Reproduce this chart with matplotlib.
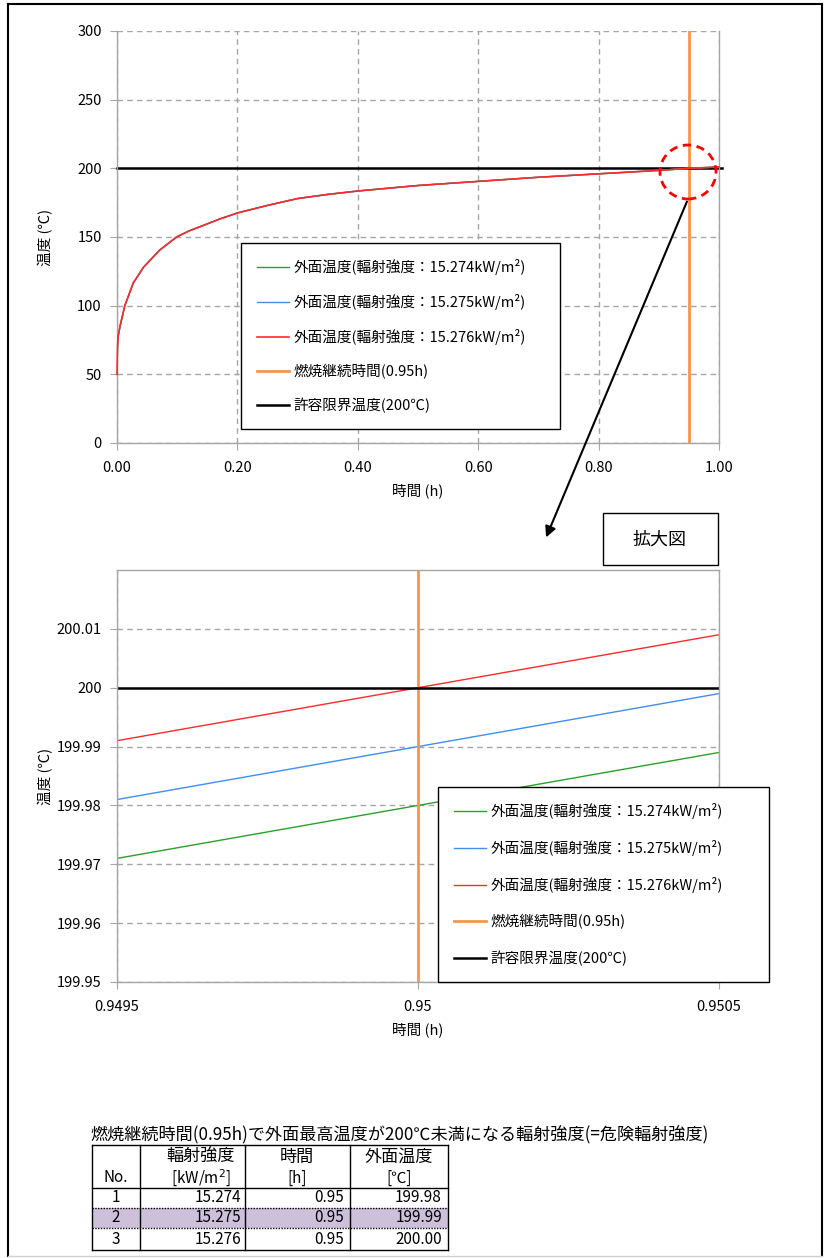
import matplotlib
matplotlib.use("Agg")
import matplotlib.pyplot as plt
from matplotlib.patches import Ellipse, FancyArrowPatch, Rectangle
from matplotlib.lines import Line2D

plt.rcParams['font.family'] = ['Noto Sans CJK JP', 'DejaVu Sans']

# ---- data ----
# top chart: outer surface temperature over time (3 series overlap at this scale)
t_main = [0.0, 0.0008, 0.002, 0.005, 0.013, 0.027, 0.044, 0.071, 0.099, 0.12, 0.138,
          0.17, 0.2, 0.25, 0.3, 0.35, 0.4, 0.5, 0.6, 0.7, 0.8, 0.9, 0.95, 1.0]
temp_main = [50, 70, 78, 85, 100, 116.5, 128, 140.5, 150, 154.5, 157.5,
             163, 167.5, 173, 178, 181, 183.5, 187.5, 190.5, 193.5, 196, 198.5, 200, 201]

# zoomed chart: straight segments between the two window edges
t_zoom = [0.9495, 0.9505]
temp_274 = [199.971, 199.989]
temp_275 = [199.981, 199.999]
temp_276 = [199.991, 200.009]

burn_time = 0.95
limit_temp = 200

labels = ['外面温度(輻射強度：15.274kW/m²)',
          '外面温度(輻射強度：15.275kW/m²)',
          '外面温度(輻射強度：15.276kW/m²)',
          '燃焼継続時間(0.95h)',
          '許容限界温度(200℃)']

top_xticks = [0.0, 0.2, 0.4, 0.6, 0.8, 1.0]
top_yticks = [0, 50, 100, 150, 200, 250, 300]
zoom_xticks = [0.9495, 0.95, 0.9505]
zoom_xlabels = ['0.9495', '0.95', '0.9505']
zoom_yticks = [199.95, 199.96, 199.97, 199.98, 199.99, 200.0, 200.01]
zoom_ylabels = ['199.95', '199.96', '199.97', '199.98', '199.99', '200', '200.01']

# table
tbl_title = '燃焼継続時間(0.95h)で外面最高温度が200℃未満になる輻射強度(=危険輻射強度)'
tbl_no = ['1', '2', '3']
tbl_intensity = ['15.274', '15.275', '15.276']
tbl_time = ['0.95', '0.95', '0.95']
tbl_temp = ['199.98', '199.99', '200.00']

c_green = '#2ca02c'
c_blue = '#3f8ef0'
c_red = '#ff2a2a'
c_orange = '#f7964a'
c_grid = '#a6a6a6'

W, H = 827, 1258


def fx(x):
    return x / W


def fy(y):
    return 1 - y / H


fig = plt.figure(figsize=(W / 100, H / 100), dpi=100)


def style_axes(ax):
    ax.grid(True, color=c_grid, linestyle=(0, (4, 3)), linewidth=1)
    ax.set_axisbelow(True)
    for s in ['left', 'bottom', 'right', 'top']:
        ax.spines[s].set_color(c_grid)
        ax.spines[s].set_linewidth(1)
    ax.tick_params(direction='out', length=5, color=c_grid, labelsize=10.5)
    ax.tick_params(axis='y', pad=6)
    ax.tick_params(axis='x', pad=8)


# ---- top chart ----
ax1 = fig.add_axes([fx(117), fy(443), 602 / W, 412 / H])
style_axes(ax1)
ax1.spines['top'].set_visible(False)
l1, = ax1.plot(t_main, temp_main, color=c_green, lw=1, zorder=3)
l2, = ax1.plot(t_main, temp_main, color=c_blue, lw=1, zorder=3)
l3, = ax1.plot(t_main, temp_main, color=c_red, lw=1.2, zorder=3, clip_on=False)
l4 = ax1.axvline(burn_time, color=c_orange, lw=2)
l5, = ax1.plot([0, 1.005], [limit_temp, limit_temp], color='black', lw=1.8, clip_on=False)
ax1.set_xlim(0, 1)
ax1.set_ylim(0, 300)
ax1.set_xticks(top_xticks)
ax1.set_xticklabels(['%.2f' % v for v in top_xticks])
ax1.set_yticks(top_yticks)
ax1.set_xlabel('時間 (h)', fontsize=10.5, labelpad=6)
ax1.set_ylabel('温度 (℃)', fontsize=10.5)
ax1.yaxis.set_label_coords((53 - 117) / 602, 0.5)
leg1 = ax1.legend([l1, l2, l3, l4, l5], labels, loc='upper left',
                  bbox_to_anchor=(fx(241), fy(428), fx(560) - fx(241), fy(243) - fy(428)),
                  bbox_transform=fig.transFigure, mode='expand', borderaxespad=0,
                  fontsize=10.5, fancybox=False, framealpha=1, edgecolor='black',
                  handlelength=2.2, handletextpad=0.3, labelspacing=1.3, borderpad=1.1)
leg1.get_frame().set_linewidth(1)

# ---- zoomed chart ----
ax2 = fig.add_axes([fx(117), fy(982), 602 / W, 412 / H])
style_axes(ax2)
g1, = ax2.plot(t_zoom, temp_274, color=c_green, lw=1)
g2, = ax2.plot(t_zoom, temp_275, color=c_blue, lw=1)
g3, = ax2.plot(t_zoom, temp_276, color=c_red, lw=1)
g4 = ax2.axvline(burn_time, color=c_orange, lw=2)
g5 = ax2.axhline(limit_temp, color='black', lw=1.8)
ax2.set_xlim(0.9495, 0.9505)
ax2.set_ylim(199.95, 200.02)
ax2.set_xticks(zoom_xticks)
ax2.set_xticklabels(zoom_xlabels)
ax2.set_yticks(zoom_yticks)
ax2.set_yticklabels(zoom_ylabels)
ax2.set_xlabel('時間 (h)', fontsize=10.5, labelpad=6)
ax2.set_ylabel('温度 (℃)', fontsize=10.5)
ax2.yaxis.set_label_coords((53 - 117) / 602, 0.5)
leg2 = ax2.legend([g1, g2, g3, g4, g5], labels, loc='upper left',
                  bbox_to_anchor=(fx(438), fy(970), fx(769) - fx(438), fy(787) - fy(970)),
                  bbox_transform=fig.transFigure, mode='expand', borderaxespad=0,
                  fontsize=10.5, fancybox=False, framealpha=1, edgecolor='black',
                  handlelength=2.2, handletextpad=0.3, labelspacing=1.45, borderpad=1.1)
leg2.get_frame().set_linewidth(1)

# ---- callout: circle, arrow, label box ----
fig.add_artist(Ellipse((fx(688), fy(172)), 56 / W, 54 / H, transform=fig.transFigure,
                       fill=False, ec='red', lw=2, ls=(0, (3, 2))))
fig.add_artist(FancyArrowPatch((fx(688), fy(199)), (fx(545), fy(540)),
                               transform=fig.transFigure, arrowstyle='-|>',
                               mutation_scale=16, color='black', lw=1.5))
fig.add_artist(Rectangle((fx(603), fy(565)), 115 / W, 52 / H, transform=fig.transFigure,
                         fill=False, ec='black', lw=1))
fig.text(fx(660), fy(540), '拡大図', fontsize=13, ha='center', va='center')

# ---- table ----
fig.text(fx(90), fy(1135), tbl_title, fontsize=12.3, ha='left', va='center')
cols = [92, 140, 245, 350, 448]
fig.add_artist(Rectangle((fx(92), fy(1228)), 356 / W, 20 / H, transform=fig.transFigure,
                         fc='#ccc0da', ec='none'))


def hline(y, x0, x1, ls='-', lw=1):
    fig.add_artist(Line2D([fx(x0), fx(x1)], [fy(y), fy(y)], transform=fig.transFigure,
                          color='black', lw=lw, ls=ls))


def vline(x, y0, y1):
    fig.add_artist(Line2D([fx(x), fx(x)], [fy(y0), fy(y1)], transform=fig.transFigure,
                          color='black', lw=1))


hline(1145, 92, 448)
hline(1188, 92, 448)
hline(1208, 92, 448, ls=(0, (1, 1)))
hline(1228, 92, 448, ls=(0, (1, 1)))
hline(1250, 92, 448)
for c in cols:
    vline(c, 1145, 1250)

fs = 11
fs_head = 12.3
fig.text(fx(201), fy(1157), '輻射強度', fontsize=fs_head, ha='center', va='center')
fig.text(fx(297), fy(1157), '時間', fontsize=fs_head, ha='center', va='center')
fig.text(fx(399), fy(1157), '外面温度', fontsize=fs_head, ha='center', va='center')
fig.text(fx(116), fy(1178), 'No.', fontsize=fs, ha='center', va='center')
fig.text(fx(201), fy(1178), '[kW/m$^2$]', fontsize=fs, ha='center', va='center')
fig.text(fx(297), fy(1178), '[h]', fontsize=fs, ha='center', va='center')
fig.text(fx(399), fy(1178), '[℃]', fontsize=fs, ha='center', va='center')
row_y = [1198, 1218, 1239]
for i in range(len(tbl_no)):
    y = fy(row_y[i])
    fig.text(fx(116), y, tbl_no[i], fontsize=fs, ha='center', va='center')
    fig.text(fx(241), y, tbl_intensity[i], fontsize=fs, ha='right', va='center')
    fig.text(fx(344), y, tbl_time[i], fontsize=fs, ha='right', va='center')
    fig.text(fx(442), y, tbl_temp[i], fontsize=fs, ha='right', va='center')

# ---- outer frame ----
fig.add_artist(Line2D([fx(8), fx(8)], [fy(4), fy(1256)], transform=fig.transFigure, color='black', lw=1.5))
fig.add_artist(Line2D([fx(8), fx(822)], [fy(4), fy(4)], transform=fig.transFigure, color='black', lw=1.5))
fig.add_artist(Line2D([fx(822), fx(822)], [fy(4), fy(1256)], transform=fig.transFigure, color='black', lw=1.5))
fig.add_artist(Line2D([fx(8), fx(822)], [fy(1256), fy(1256)], transform=fig.transFigure, color='#d0d0d0', lw=1))

fig.savefig('out.png', dpi=100)
plt.close()
